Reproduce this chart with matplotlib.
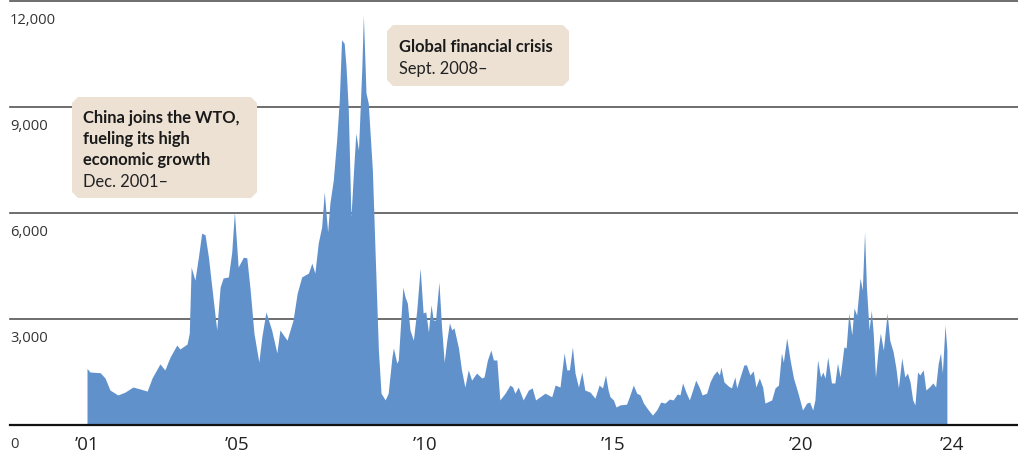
import matplotlib
matplotlib.use("Agg")
import matplotlib.pyplot as plt
from matplotlib.patches import Polygon

# Baltic Dry Index (approx.)
dates = [2001.00, 2001.08, 2001.35, 2001.48, 2001.61, 2001.82, 2002.01, 2002.22, 2002.41, 2002.60,
         2002.73, 2002.94, 2003.07, 2003.21, 2003.39, 2003.47, 2003.66, 2003.72, 2003.77, 2003.87,
         2003.96, 2004.05, 2004.14, 2004.23, 2004.32, 2004.45, 2004.54, 2004.62, 2004.76, 2004.85,
         2004.92, 2005.02, 2005.16, 2005.25, 2005.34, 2005.44, 2005.57, 2005.65, 2005.76, 2005.91,
         2006.05, 2006.13, 2006.32, 2006.48, 2006.59, 2006.71, 2006.89, 2006.98, 2007.06, 2007.15,
         2007.24, 2007.31, 2007.40, 2007.46, 2007.55, 2007.64, 2007.71, 2007.77, 2007.84, 2007.89,
         2007.95, 2008.02, 2008.10, 2008.15, 2008.22, 2008.31, 2008.35, 2008.42, 2008.48, 2008.59,
         2008.66, 2008.75, 2008.82, 2008.93, 2009.01, 2009.11, 2009.15, 2009.24, 2009.28, 2009.40,
         2009.46, 2009.52, 2009.59, 2009.68, 2009.77, 2009.86, 2009.94, 2010.01, 2010.08, 2010.15,
         2010.21, 2010.27, 2010.36, 2010.43, 2010.50, 2010.57, 2010.64, 2010.70, 2010.76, 2010.88,
         2010.96, 2011.05, 2011.14, 2011.23, 2011.36, 2011.50, 2011.56, 2011.65, 2011.74, 2011.81,
         2011.90, 2011.98, 2012.12, 2012.25, 2012.32, 2012.38, 2012.47, 2012.60, 2012.74, 2012.84,
         2012.93, 2013.05, 2013.18, 2013.36, 2013.45, 2013.58, 2013.69, 2013.76, 2013.83, 2013.91,
         2013.98, 2014.07, 2014.16, 2014.24, 2014.38, 2014.51, 2014.62, 2014.71, 2014.79, 2014.86,
         2014.91, 2015.00, 2015.07, 2015.18, 2015.35, 2015.44, 2015.53, 2015.62, 2015.71, 2015.80,
         2015.93, 2016.04, 2016.15, 2016.26, 2016.37, 2016.49, 2016.59, 2016.70, 2016.77, 2016.84,
         2016.93, 2017.02, 2017.08, 2017.19, 2017.28, 2017.36, 2017.48, 2017.57, 2017.66, 2017.75,
         2017.82, 2017.86, 2017.94, 2018.06, 2018.14, 2018.23, 2018.28, 2018.37, 2018.47, 2018.54,
         2018.63, 2018.72, 2018.79, 2018.88, 2018.97, 2019.03, 2019.21, 2019.30, 2019.39, 2019.47,
         2019.52, 2019.61, 2019.70, 2019.79, 2019.91, 2020.03, 2020.14, 2020.22, 2020.30, 2020.36,
         2020.43, 2020.51, 2020.57, 2020.63, 2020.70, 2020.80, 2020.89, 2020.96, 2021.03, 2021.13,
         2021.19, 2021.26, 2021.34, 2021.40, 2021.47, 2021.56, 2021.62, 2021.68, 2021.73, 2021.80,
         2021.86, 2021.91, 2021.97, 2022.04, 2022.10, 2022.18, 2022.28, 2022.35, 2022.44, 2022.51,
         2022.58, 2022.67, 2022.75, 2022.82, 2022.89, 2022.96, 2023.02, 2023.09, 2023.15, 2023.24,
         2023.31, 2023.40, 2023.50, 2023.57, 2023.64, 2023.70, 2023.75, 2023.82, 2023.87]

bdi = [1600, 1500, 1480, 1330, 990, 850, 930, 1075, 1020, 960,
       1330, 1730, 1557, 1925, 2264, 2150, 2290, 2600, 4470, 4100,
       4730, 5430, 5380, 4750, 3900, 2690, 3900, 4160, 4190, 4900,
       6030, 4470, 4750, 4730, 3820, 2600, 1780, 2500, 3200, 2690,
       2040, 2690, 2400, 2970, 3730, 4190, 4300, 4580, 4300, 5150,
       5600, 6600, 5470, 6280, 6930, 8070, 9200, 10900, 10800, 10130,
       8900, 5890, 7400, 8260, 7780, 10130, 11600, 9400, 9110, 7220,
       4950, 2120, 900, 710, 900, 1925, 2180, 1750, 1840, 3900,
       3620, 3450, 2690, 2400, 3250, 4440, 3170, 3200, 2630, 3400,
       2970, 2970, 4050, 2770, 1780, 2400, 2890, 2690, 2750, 2180,
       1560, 1075, 1560, 1270, 1470, 1330, 1360, 1840, 2120, 1840,
       1840, 710, 900, 1130, 1075, 900, 1075, 710, 990, 1050,
       710, 800, 900, 800, 1130, 1075, 2040, 1560, 1560, 2210,
       1470, 1075, 1500, 990, 930, 760, 1130, 1050, 1415, 990,
       800, 710, 510, 570, 590, 850, 1130, 900, 850, 620,
       425, 280, 425, 650, 620, 735, 710, 880, 850, 1190,
       930, 710, 900, 1270, 1075, 850, 900, 1220, 1415, 1530,
       1415, 1640, 1220, 1100, 1050, 1360, 1050, 1360, 1700, 1700,
       1415, 1530, 1075, 1330, 1075, 620, 710, 1050, 1130, 2040,
       1780, 2460, 1840, 1330, 900, 425, 620, 650, 425, 710,
       1840, 1360, 1500, 1330, 1925, 1190, 1190, 1750, 1360, 2210,
       2180, 3170, 2550, 3310, 3110, 4160, 3820, 5460, 3900, 2690,
       3250, 2600, 1360, 2120, 2600, 2120, 3170, 2400, 2070, 1640,
       1050, 1900, 1360, 1470, 1220, 710, 570, 1500, 1415, 1560,
       990, 1075, 1190, 1075, 1750, 2040, 1470, 2830, 2120]

y_ticks = [0, 3000, 6000, 9000, 12000]
y_labels = ["0", "3,000", "6,000", "9,000", "12,000"]
x_ticks = [2001, 2005, 2010, 2015, 2020, 2024]
x_labels = ["\u201901", "\u201905", "\u201910", "\u201915", "\u201920", "\u201924"]

notes = [
    (["China joins the WTO,", "fueling its high", "economic growth"], "Dec. 2001\u2013"),
    (["Global financial crisis"], "Sept. 2008\u2013"),
]

W, H = 1018, 462
fig = plt.figure(figsize=(W / 100, H / 100), dpi=100)
ax = fig.add_axes([0, 0, 1, 1])
ax.set_xlim(1998.686, 2025.761)
ax.set_ylim(-1047, 12028)
ax.axis("off")

fill_color = "#6191CB"
ax.fill_between(dates, bdi, 0, color=fill_color, lw=0, zorder=2)

x_left = 10 / W
for v in y_ticks:
    if v == 0:
        ax.axhline(v, xmin=x_left, xmax=1, color="#111111", lw=1.6, zorder=3)
    else:
        ax.axhline(v, xmin=x_left, xmax=1, color="#555555", lw=1.2, zorder=1)

tick_font = ["Open Sans", "DejaVu Sans"]
for v, lab in zip(y_ticks, y_labels):
    ax.annotate(lab, xy=(x_left, v), xycoords=("axes fraction", "data"),
                xytext=(0, -8.5), textcoords="offset points",
                ha="left", va="top", fontsize=10.6, color="#333333",
                family=tick_font, zorder=4)

for v, lab in zip(x_ticks, x_labels):
    ax.annotate(lab, xy=(v, 0), xycoords="data",
                xytext=(0, -14.5), textcoords="offset points",
                ha="center", va="center", fontsize=13.5, color="#222222",
                family=tick_font)


def px(x, y):
    return (x / W, 1 - y / H)


def box(x0, y0, x1, y1, c=6):
    pts = [(x0 + c, y0), (x1 - c, y0), (x1, y0 + c), (x1, y1 - c),
           (x1 - c, y1), (x0 + c, y1), (x0, y1 - c), (x0, y0 + c)]
    poly = Polygon([px(a, b) for a, b in pts], closed=True,
                   transform=fig.transFigure, facecolor="#EDE1D4",
                   edgecolor="none", zorder=5)
    fig.patches.append(poly)


note_font = ["Lato", "DejaVu Sans"]
boxes = [(72, 97, 257, 198, 83, 123), (387, 25, 569, 86, 399, 52)]
for (bold_lines, date_line), (x0, y0, x1, y1, tx, ty) in zip(notes, boxes):
    box(x0, y0, x1, y1)
    y = ty
    for line in bold_lines:
        fig.text(*px(tx, y), line, ha="left", va="baseline", fontsize=11.9,
                 fontweight="bold", color="#1a1a1a", family=note_font, zorder=6)
        y += 21
    fig.text(*px(tx, y + 1), date_line, ha="left", va="baseline", fontsize=11.9,
             color="#222222", family=note_font, zorder=6)

fig.savefig("out.png", dpi=100)
